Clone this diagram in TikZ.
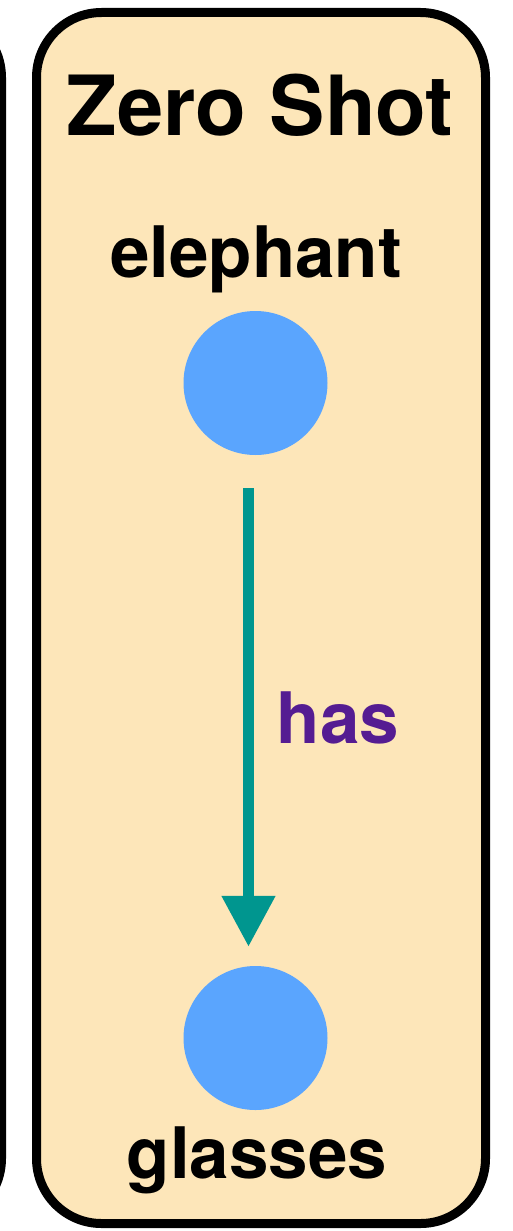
\documentclass[tikz,border=0pt]{standalone}
\usepackage{fontspec}
\setmainfont{TeX Gyre Heros}
\usetikzlibrary{arrows.meta}
\definecolor{panelfill}{HTML}{FDE6B9}
\definecolor{entityblue}{HTML}{5AA5FE}
\definecolor{relteal}{HTML}{00968F}
\definecolor{relpurple}{HTML}{551C92}
\begin{document}
\begin{tikzpicture}[
    x=1pt, y=-1pt,
    mypanel/.style={draw=black, line width=9pt, rounded corners=65pt},
    myentity/.style={circle, fill=entityblue, minimum size=144pt, inner sep=0pt},
    mylabel/.style={anchor=base, inner sep=0pt, font=\fontsize{71}{80}\selectfont\bfseries},
    myarrow/.style={-{Triangle[length=51pt, width=51pt]}, relteal, line width=11pt},
]
\clip (0,0) rectangle (513,1231);

% neighbouring panel, only its right edge shows
\draw[mypanel] (-400,12.5) rectangle (1.5,1223.5);
\draw[mypanel, fill=panelfill] (36.5,12.5) rectangle (485.5,1223.5);

\node[mylabel, font=\fontsize{83}{90}\selectfont\bfseries] (title) at (260,135) {Zero Shot};

\node[mylabel] (elephantlabel) at (256,277) {elephant};
\node[myentity] (elephant) at (255.5,383) {};

\node[myentity] (glasses) at (255.5,1038) {};
\node[mylabel] (glasseslabel) at (257,1178) {glasses};

\draw[myarrow, shorten <=33pt, shorten >=19pt, transform canvas={xshift=-7pt}] (elephant) -- (glasses);
\node[mylabel, text=relpurple] (haslabel) at (338,743) {has};
\end{tikzpicture}
\end{document}
